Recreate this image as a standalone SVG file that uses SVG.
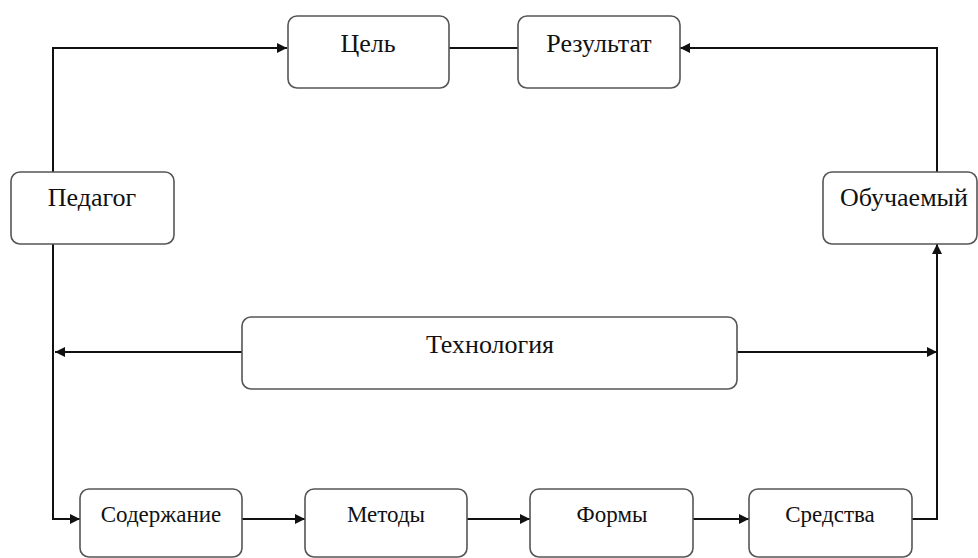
<svg xmlns="http://www.w3.org/2000/svg" width="978" height="558" viewBox="0 0 978 558" font-family="Liberation Serif, Times New Roman, serif">
<style>
.box{fill:#fff;stroke:#555;stroke-width:1.6}
.t{fill:#111;text-anchor:middle}
.big{font-size:26px}
.small{font-size:23px}
.c{fill:none;stroke:#111;stroke-width:2}
</style>
<defs>
<marker id="ah" viewBox="0 0 10 10" refX="10" refY="5" markerWidth="11" markerHeight="10" markerUnits="userSpaceOnUse" orient="auto">
<path d="M0,0 L10,5 L0,10 z" fill="#111"/>
</marker>
</defs>
<rect width="978" height="558" fill="#fff"/>
<g id="connectors">
<polyline class="c" points="53,172 53,48 287,48" marker-end="url(#ah)"/>
<line class="c" x1="449" y1="48" x2="518" y2="48"/>
<polyline class="c" points="937,172 937,48 680,48" marker-end="url(#ah)"/>
<line class="c" x1="242" y1="352" x2="55" y2="352" marker-end="url(#ah)"/>
<line class="c" x1="737" y1="352" x2="937" y2="352" marker-end="url(#ah)"/>
<polyline class="c" points="53,244 53,519 80,519" marker-end="url(#ah)"/>
<line class="c" x1="242" y1="519" x2="305" y2="519" marker-end="url(#ah)"/>
<line class="c" x1="467" y1="519" x2="530" y2="519" marker-end="url(#ah)"/>
<line class="c" x1="693" y1="519" x2="749" y2="519" marker-end="url(#ah)"/>
<polyline class="c" points="912,519 937,519 937,244" marker-end="url(#ah)"/>
</g>
<g id="goal"><rect class="box" x="288" y="16" width="161" height="72" rx="9"/><text class="t big" x="368" y="52">Цель</text></g>
<g id="result"><rect class="box" x="518" y="16" width="162" height="72" rx="9"/><text class="t big" x="599" y="52">Результат</text></g>
<g id="teacher"><rect class="box" x="11" y="172" width="163" height="72" rx="9"/><text class="t big" x="92" y="206">Педагог</text></g>
<g id="learner"><rect class="box" x="823" y="172" width="154" height="72" rx="9"/><text class="t big" x="904" y="206">Обучаемый</text></g>
<g id="technology"><rect class="box" x="242" y="317" width="495" height="72" rx="9"/><text class="t big" x="490" y="353">Технология</text></g>
<g id="content"><rect class="box" x="80" y="489" width="162" height="68" rx="9"/><text class="t small" x="161" y="522">Содержание</text></g>
<g id="methods"><rect class="box" x="305" y="489" width="162" height="68" rx="9"/><text class="t small" x="386" y="522">Методы</text></g>
<g id="forms"><rect class="box" x="530" y="489" width="163" height="68" rx="9"/><text class="t small" x="612" y="522">Формы</text></g>
<g id="means"><rect class="box" x="749" y="489" width="163" height="68" rx="9"/><text class="t small" x="830" y="522">Средства</text></g>
</svg>
